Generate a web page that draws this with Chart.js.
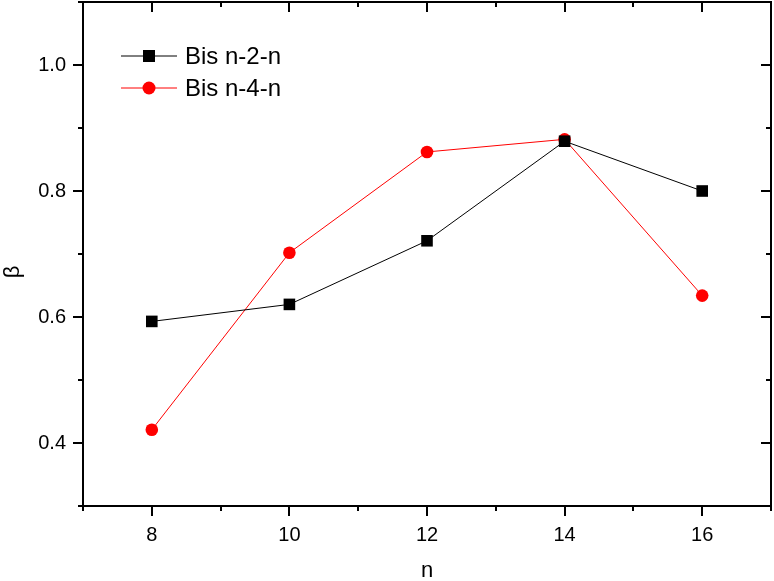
<!DOCTYPE html>
<html>
<head>
<meta charset="utf-8">
<script src="https://cdn.jsdelivr.net/npm/chart.js@4"></script>
<style>
  html, body { margin: 0; padding: 0; background: #fff; }
  #wrap { width: 774px; height: 581px; }
</style>
</head>
<body>
<div id="wrap"><canvas id="lineChart" width="774" height="581"></canvas></div>
<script>
// ================= D A T A =================
const nValues = [8, 10, 12, 14, 16];
const bisN2 = [0.593, 0.620, 0.721, 0.879, 0.800];
const bisN4 = [0.421, 0.702, 0.862, 0.882, 0.634];
const seriesNames = ['Bis n-2-n', 'Bis n-4-n'];

const xMajorTicks = [8, 10, 12, 14, 16];
const xMinorTicks = [7, 9, 11, 13, 15, 17];
const yMajorTicks = [0.4, 0.6, 0.8, 1.0];
const yMinorTicks = [0.3, 0.5, 0.7, 0.9, 1.1];

const FONT = '"Liberation Sans", Arial, sans-serif';

// ================= F R A M E  +  T I C K S  +  T I T L E S =================
const framePlugin = {
  id: 'frame',
  afterDraw(chart) {
    const { ctx, chartArea: a, scales: { x, y } } = chart;
    ctx.save();
    ctx.strokeStyle = '#000';
    ctx.lineWidth = 2;
    ctx.strokeRect(a.left, a.top, a.right - a.left, a.bottom - a.top);

    const tick = (x1, y1, x2, y2) => {
      ctx.beginPath(); ctx.moveTo(x1, y1); ctx.lineTo(x2, y2); ctx.stroke();
    };
    // x ticks: out at bottom, in at top
    xMajorTicks.concat(xMinorTicks).forEach(v => {
      const len = xMajorTicks.includes(v) ? 10 : 5;
      const px = Math.round(x.getPixelForValue(v));
      tick(px, a.bottom, px, a.bottom + len);
      tick(px, a.top, px, a.top + len);
    });
    // y ticks: out at left, in at right
    yMajorTicks.concat(yMinorTicks).forEach(v => {
      const len = yMajorTicks.includes(v) ? 10 : 5;
      const py = Math.round(y.getPixelForValue(v));
      tick(a.left - len, py, a.left, py);
      tick(a.right - len, py, a.right, py);
    });

    // axis titles
    ctx.fillStyle = '#000';
    ctx.font = '22px ' + FONT;
    ctx.textAlign = 'center';
    ctx.textBaseline = 'middle';
    ctx.fillText('n', (a.left + a.right) / 2, 571);
    ctx.translate(13, 272);
    ctx.rotate(-Math.PI / 2);
    ctx.fillText('β', 0, 0);
    ctx.restore();
  }
};

// ================= L E G E N D (inside plot) =================
const legendPlugin = {
  id: 'insideLegend',
  afterDraw(chart) {
    const { ctx } = chart;
    ctx.save();
    ctx.font = '24px ' + FONT;
    ctx.textBaseline = 'middle';
    chart.data.datasets.forEach((ds, i) => {
      const yy = 56 + i * 32;
      ctx.strokeStyle = ds.borderColor;
      ctx.lineWidth = 1;
      ctx.beginPath(); ctx.moveTo(121, yy); ctx.lineTo(177, yy); ctx.stroke();
      ctx.fillStyle = ds.pointBackgroundColor;
      if (ds.pointStyle === 'rect') {
        ctx.fillRect(149 - 6, yy - 6, 12, 12);
      } else {
        ctx.beginPath(); ctx.arc(149, yy, 6.5, 0, Math.PI * 2); ctx.fill();
      }
      ctx.fillStyle = '#000';
      ctx.fillText(ds.label, 185, yy + 1);
    });
    ctx.restore();
  }
};

const ctxEl = document.getElementById('lineChart');

new Chart(ctxEl, {
  type: 'line',
  data: {
    datasets: [
      {
        label: seriesNames[0],
        data: nValues.map((n, i) => ({ x: n, y: bisN2[i] })),
        borderColor: '#000',
        backgroundColor: '#000',
        pointBackgroundColor: '#000',
        pointBorderWidth: 0,
        borderWidth: 1,
        pointStyle: 'rect',
        pointRadius: 8.2
      },
      {
        label: seriesNames[1],
        data: nValues.map((n, i) => ({ x: n, y: bisN4[i] })),
        borderColor: '#ff0000',
        backgroundColor: '#ff0000',
        pointBackgroundColor: '#ff0000',
        pointBorderWidth: 0,
        borderWidth: 1,
        pointStyle: 'circle',
        pointRadius: 6.3
      }
    ]
  },
  options: {
    responsive: false,
    animation: false,
    layout: { autoPadding: false, padding: { top: 2, right: 3, left: 0, bottom: 0 } },
    plugins: {
      legend: { display: false },
      tooltip: { enabled: false }
    },
    scales: {
      x: {
        type: 'linear',
        min: 7,
        max: 17,
        afterBuildTicks: s => { s.ticks = xMajorTicks.map(v => ({ value: v })); },
        afterFit: s => {
          s.height = 75;
          s.paddingLeft = 0; s.paddingRight = 0;
          s.paddingTop = 0; s.paddingBottom = 0;
        },
        grid: { display: false, drawTicks: false },
        border: { display: false },
        ticks: {
          color: '#000',
          font: { family: FONT, size: 20 },
          padding: 17,
          maxRotation: 0
        }
      },
      y: {
        min: 0.3,
        max: 1.1,
        afterBuildTicks: s => { s.ticks = yMajorTicks.map(v => ({ value: v })); },
        afterFit: s => {
          s.width = 83;
          s.paddingLeft = 0; s.paddingRight = 0;
          s.paddingTop = 0; s.paddingBottom = 0;
        },
        grid: { display: false, drawTicks: false },
        border: { display: false },
        ticks: {
          color: '#000',
          font: { family: FONT, size: 20 },
          padding: 17,
          callback: v => v.toFixed(1)
        }
      }
    }
  },
  plugins: [framePlugin, legendPlugin]
});
</script>
</body>
</html>
